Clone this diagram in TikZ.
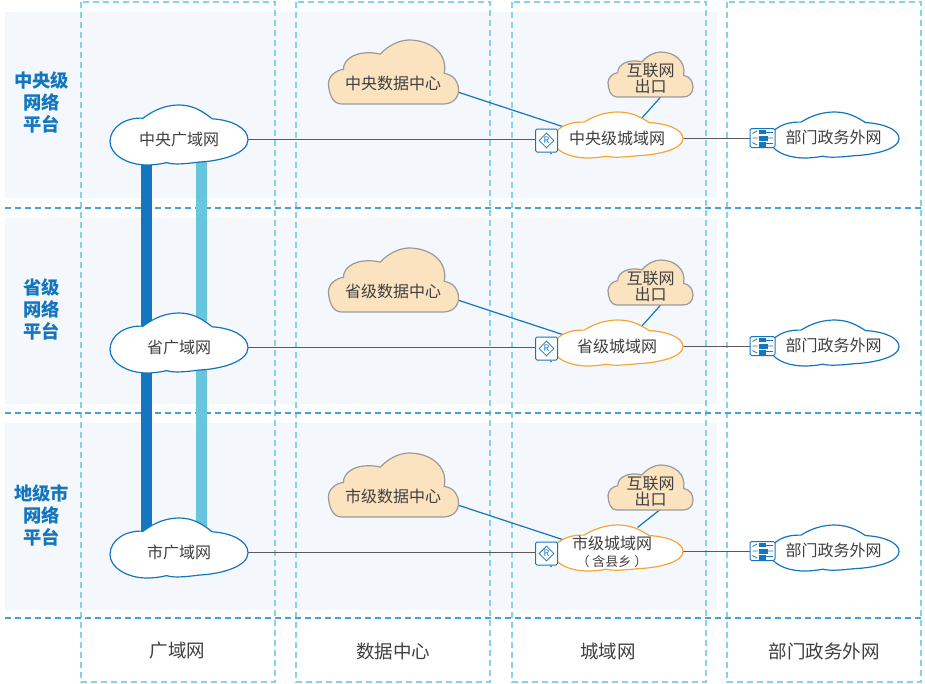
\documentclass[tikz,border=0pt]{standalone}
\usepackage{fontspec}
\setmainfont{Noto Sans CJK SC}
\usetikzlibrary{shapes.geometric}
\definecolor{panelbg}{HTML}{F4F8FC}
\definecolor{coldash}{HTML}{86D2E6}
\definecolor{rowdash}{HTML}{4A9FD8}
\definecolor{netblue}{HTML}{1476BE}
\definecolor{barlight}{HTML}{68C5DE}
\definecolor{cityorange}{HTML}{F5A733}
\definecolor{dcfill}{HTML}{FBE3C0}
\definecolor{dcline}{HTML}{9A9A9A}
\definecolor{txtgray}{HTML}{404040}
\definecolor{linkgray}{HTML}{5A5A5A}
\pgfdeclarelayer{panels}
\pgfdeclarelayer{lines}
\pgfsetlayers{panels,lines,main}
\tikzset{
	panel/.style={fill=panelbg,draw=none},
	coldashed/.style={draw=coldash,line width=1.1pt,dash pattern=on 6pt off 4pt},
	rowdashed/.style={draw=rowdash,line width=1.1pt,dash pattern=on 6pt off 4pt},
	netcloud/.style={draw=netblue,fill=white,line width=1.2pt},
	citycloud/.style={draw=cityorange,fill=white,line width=1.2pt},
	dccloud/.style={draw=dcline,fill=dcfill,line width=1.2pt},
	nettext/.style={text=txtgray,font=\fontsize{16}{17}\selectfont,align=center,inner sep=0pt},
	rowtitle/.style={text=netblue,font=\fontsize{18.3}{22}\selectfont\bfseries,align=center,inner sep=0pt},
	coltitle/.style={text=txtgray,font=\fontsize{18.5}{22}\selectfont,inner sep=0pt},
	graylink/.style={draw=linkgray,line width=1pt},
	bluelink/.style={draw=netblue,line width=1.2pt},
	iconbox/.style={draw=netblue,fill=white,rounded corners=1.5pt,line width=1pt,inner sep=0pt},
	rdiamond/.style={diamond,draw=netblue,line width=.8pt,inner sep=0pt,minimum size=15pt,text=netblue,font=\fontsize{9}{10}\selectfont},
}
% net cloud: x left, y top, width, height
\newcommand{\netpuff}[5]{
	\begin{scope}[shift={(#2,#3)},xscale=#4,yscale=#5]
		\draw[#1] (0,.61) .. controls (0,.36) and (.12,.2) .. (.24,.22)
			.. controls (.33,.06) and (.42,0) .. (.5,0)
			.. controls (.6,0) and (.67,.1) .. (.74,.23)
			.. controls (.88,.25) and (1,.38) .. (1,.58)
			.. controls (1,.8) and (.82,.93) .. (.65,.95)
			.. controls (.55,.98) and (.46,1) .. (.41,.96)
			.. controls (.36,.99) and (.3,1) .. (.27,1)
			.. controls (.12,1) and (0,.82) .. cycle;
	\end{scope}
}
% data cloud: x left, y top, width, height
\newcommand{\dcpuff}[4]{
	\begin{scope}[shift={(#1,#2)},xscale=#3,yscale=#4]
		\draw[dccloud] (.1,1) .. controls (.03,1) and (0,.82) .. (0,.68)
			.. controls (0,.56) and (.06,.47) .. (.115,.46)
			.. controls (.11,.3) and (.22,.14) .. (.4,.22)
			.. controls (.46,.08) and (.55,0) .. (.62,0)
			.. controls (.78,0) and (.92,.2) .. (.89,.52)
			.. controls (.97,.55) and (1,.66) .. (1,.78)
			.. controls (1,.92) and (.95,1) .. (.88,1) -- cycle;
	\end{scope}
}
\begin{document}
\begin{tikzpicture}[x=1pt,y=-1pt]
	\useasboundingbox (0,0) rectangle (925,683);
	\begin{pgfonlayer}{panels}
		\fill[white] (0,0) rectangle (925,683);
		\path[panel] (5,12) rectangle (717,198);
		\path[panel] (5,218) rectangle (717,404);
		\path[panel] (5,423) rectangle (717,610);
		\foreach \cx in {81,296,512,727}
			\path[coldashed] (\cx,2) rectangle (\cx+194,682);
		\foreach \ry in {208,413,618}
			\path[rowdashed] (5,\ry) -- (921,\ry);
	\end{pgfonlayer}

	\foreach \rw/\dy/\wantxt/\dctxt/\citytxt/\cityx in {%
		a/0/中央广域网/中央数据中心/中央级城域网/617,%
		b/208/省广域网/省级数据中心/省级城域网/617,%
		c/413/市广域网/市级数据中心/{市级城域网\\{\fontsize{13}{15}\selectfont（ 含县乡 ）}}/612}
	{
		\begin{scope}[yshift=-\dy pt]
			\netpuff{netcloud}{110}{105}{138}{60}
			\node[nettext] (wan\rw) at (179,139) {\wantxt};
			\dcpuff{328.5}{40}{130}{64}
			\node[nettext] (dc\rw) at (393,83) {\dctxt};
			\coordinate (dcout\rw) at (450,89.5);
			\coordinate (cityin\rw) at (570,129);
			\dcpuff{608}{52}{85}{45}
			\node[nettext,font=\fontsize{16}{16}\selectfont] (exit\rw) at (650.5,78.5) {互联网\\出口};
			\netpuff{citycloud}{553}{112}{130}{46}
			\node[nettext] (city\rw) at (\cityx,138.5) {\citytxt};
			\netpuff{netcloud}{770}{112}{129}{46}
			\node[nettext] (dept\rw) at (833.5,137.5) {部门政务外网};
			\node[iconbox,minimum width=22pt,minimum height=23pt] (rt\rw) at (546.5,140.5) {};
			\node[rdiamond] at (rt\rw) {R};
			\fill[netblue] (rt\rw.south east) ++(-7,1) circle (.8);
			\node[iconbox,minimum width=25pt,minimum height=19pt] (sw\rw) at (762.5,138) {};
			\fill[netblue] (759,129.5) rectangle (765.5,134);
			\fill[netblue] (759,135.5) rectangle (767.5,140.5);
			\fill[netblue] (759,142) rectangle (765.5,146.5);
			\draw[netblue,line width=.8pt] (752.5,133.5) -- (757,131) (752.5,138) -- (757.5,138) (752.5,142.5) -- (757,145) (766,132.5) -- (773,132.5) (768,138) -- (773,138) (766,143.5) -- (773,143.5);
		\end{scope}
		\begin{pgfonlayer}{lines}
			\draw[graylink] (wan\rw) -- (wan\rw -| rt\rw.west);
			\draw[graylink] (city\rw -| rt\rw.east) -- (city\rw -| sw\rw.west);
			\draw[bluelink] (dcout\rw) -- (cityin\rw);
			\draw[bluelink] ([xshift=13pt]exit\rw.south) -- ([xshift=-13pt,yshift=8pt]exit\rw.south |- city\rw.north);
		\end{pgfonlayer}
	}

	\begin{pgfonlayer}{lines}
		\draw[netblue,line width=11pt] ([xshift=-33pt]wana.center) -- ([xshift=-33pt]wanc.center);
		\draw[barlight,line width=11pt] ([xshift=22pt]wana.center) -- ([xshift=22pt]wanc.center);
	\end{pgfonlayer}

	\node[rowtitle] (rowa) at (41.5,102) {中央级\\网络\\平台};
	\node[rowtitle] (rowb) at (41.5,309.5) {省级\\网络\\平台};
	\node[rowtitle] (rowc) at (41.5,515) {地级市\\网络\\平台};
	\node[coltitle] (cola) at (177.5,651) {广域网};
	\node[coltitle] (colb) at (393,651) {数据中心};
	\node[coltitle] (colc) at (608,651) {城域网};
	\node[coltitle] (cold) at (824,651) {部门政务外网};
\end{tikzpicture}
\end{document}
